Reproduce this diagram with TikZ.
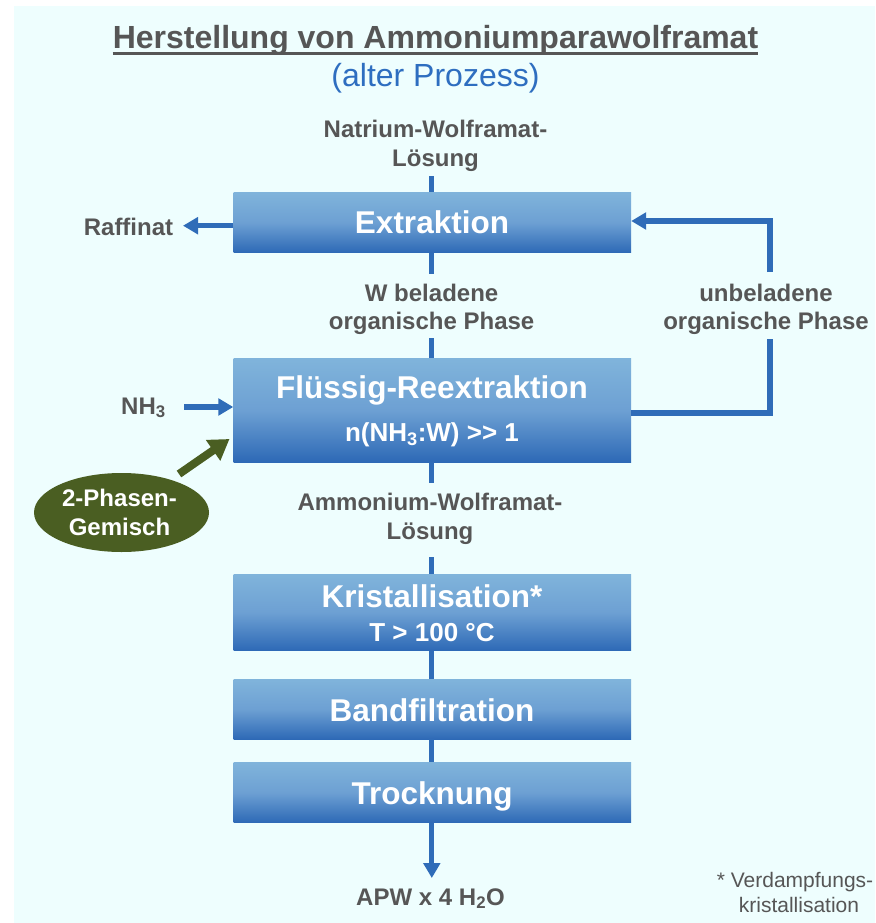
\documentclass[tikz,border=0pt]{standalone}
\usepackage{fontspec}
\setmainfont{Liberation Sans}
\usetikzlibrary{arrows.meta,shapes.geometric}
\definecolor{bgc}{HTML}{EEFEFE}
\definecolor{txt}{HTML}{565656}
\definecolor{lnc}{HTML}{2F6CB8}
\definecolor{subc}{HTML}{2E6EC0}
\definecolor{grn}{HTML}{4A5E22}
\definecolor{btop}{HTML}{80B4DB}
\definecolor{bmid}{HTML}{6DA0D3}
\definecolor{bbot}{HTML}{2D69B6}
\tikzset{
  procbox/.style={minimum width=397.5pt, inner sep=0pt, top color=btop, bottom color=bbot, middle color=bmid, draw=none, anchor=north},
  boxtxt/.style={text=white, font=\bfseries\fontsize{31.5}{36}\selectfont, inner sep=0pt, anchor=base},
  boxsub/.style={text=white, font=\bfseries\fontsize{26}{30}\selectfont, inner sep=0pt, anchor=base},
  lbl/.style={text=txt, font=\bfseries\fontsize{24}{29}\selectfont, inner sep=0pt, anchor=base},
  ftn/.style={text=txt, font=\fontsize{21}{25}\selectfont, inner sep=0pt, anchor=base},
  flow/.style={draw=lnc, line width=5.3pt},
  flowarr/.style={draw=lnc, line width=5.3pt, -{Triangle[length=15pt,width=16.5pt]}},
}
\begin{document}
\begin{tikzpicture}[x=1pt,y=-1pt]
\useasboundingbox (0,0) rectangle (875,923);
\fill[white] (0,0) rectangle (875,923);
\fill[bgc] (14,6) rectangle (875,923);
% title
\node[text=txt, font=\bfseries\fontsize{32}{36}\selectfont, inner sep=0pt, anchor=base] (title) at (435.5,49) {Herstellung von Ammoniumparawolframat};
\draw[txt, line width=2.6pt] ([yshift=-4.5pt]title.base west) -- ([yshift=-4.5pt]title.base east);
\node[text=subc, font=\fontsize{32}{36}\selectfont, inner sep=0pt, anchor=base] (sub) at (435.5,87) {(alter Prozess)};
% boxes
\node[procbox, minimum height=60.5pt] (ex) at (432.25,192) {};
\node[boxtxt] (extxt) at (432,233) {Extraktion};
\node[procbox, minimum height=103.5pt] (fl) at (432.25,358.3) {};
\node[boxtxt] (fltxt) at (432,398) {Flüssig-Reextraktion};
\node[boxsub] (flsub) at (432,441.5) {n(NH\textsubscript{3}:W) >\kern0pt> 1};
\node[procbox, minimum height=76.5pt] (kr) at (432.25,574) {};
\node[boxtxt] (krtxt) at (432,607.5) {Kristallisation*};
\node[boxsub] (krsub) at (432,641.5) {T > 100 °C};
\node[procbox, minimum height=60pt] (bf) at (432.25,679) {};
\node[boxtxt] (bftxt) at (432,721) {Bandfiltration};
\node[procbox, minimum height=60.5pt] (tr) at (432.25,762) {};
\node[boxtxt] (trtxt) at (432,804) {Trocknung};
% labels
\node[lbl] (natr1) at (435.5,137.3) {Natrium-Wolframat-};
\node[lbl] (natr2) at (435.5,166.7) {Lösung};
\node[lbl] (raff) at (128.5,235) {Raffinat};
\node[lbl] (wbel1) at (431.6,301.7) {W beladene};
\node[lbl] (wbel2) at (431.6,329.5) {organische Phase};
\node[lbl] (unbel1) at (766,301.7) {unbeladene};
\node[lbl] (unbel2) at (766,329.5) {organische Phase};
\node[lbl] (nh3) at (143.5,414) {NH\textsubscript{3}};
\node[lbl] (amm1) at (430,510) {Ammonium-Wolframat-};
\node[lbl] (amm2) at (430,539) {Lösung};
\node[lbl] (apw) at (430.5,905) {APW x 4 H\textsubscript{2}O};
\node[ftn] (foot1) at (795,887) {* Verdampfungs-};
\node[ftn] (foot2) at (799,912) {kristallisation};
% ellipse
\node[ellipse, fill=grn, minimum width=175pt, minimum height=79pt, inner sep=0pt] (gem) at (121.5,512.5) {};
\node[text=white, font=\bfseries\fontsize{24}{28}\selectfont, inner sep=0pt, anchor=base] (gem1) at (119.5,506.7) {2-Phasen-};
\node[text=white, font=\bfseries\fontsize{24}{28}\selectfont, inner sep=0pt, anchor=base] (gem2) at (119.5,535) {Gemisch};
% connectors
\coordinate (c1) at (431.8,176);
\draw[flow] (c1) -- (c1 |- ex.north);
\coordinate (c2) at (431.8,274);
\draw[flow] (c2 |- ex.south) -- (c2);
\coordinate (c3) at (431.8,338);
\draw[flow] (c3) -- (c3 |- fl.north);
\coordinate (c4) at (431.8,483);
\draw[flow] (c4 |- fl.south) -- (c4);
\coordinate (c5) at (431.8,557);
\draw[flow] (c5) -- (c5 |- kr.north);
\draw[flow] (c5 |- kr.south) -- (c5 |- bf.north);
\draw[flow] (c5 |- bf.south) -- (c5 |- tr.north);
\coordinate (c6) at (431.8,878);
\draw[flowarr] (c6 |- tr.south) -- (c6);
% Raffinat
\coordinate (r1) at (183,225.7);
\draw[flowarr] (ex.west |- r1) -- (r1);
% NH3
\coordinate (n1) at (184,407);
\draw[flowarr] (n1) -- (fl.west |- n1);
% loop
\coordinate (l1) at (770,413);
\coordinate (l2) at (770,339);
\coordinate (l3) at (770,272);
\coordinate (l4) at (770,221);
\draw[flow] (fl.east |- l1) -- (l1) -- (l2);
\draw[flowarr] (l3) -- (l4) -- (ex.east |- l4);
% green arrow
\coordinate (g1) at (229.5,439);
\draw[grn, line width=8pt, -{Triangle[length=20pt,width=24pt]}] (179,474) -- (g1);
\end{tikzpicture}
\end{document}
